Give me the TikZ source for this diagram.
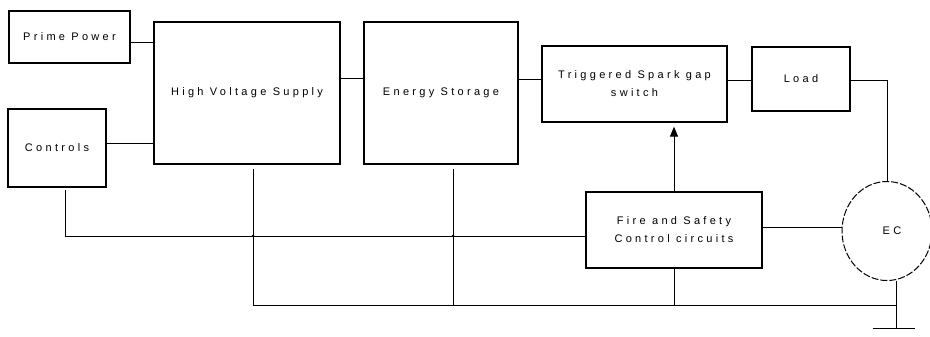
\documentclass[tikz,border=0pt]{standalone}
\usepackage{fontspec}
\setmainfont{Liberation Sans}[LetterSpace=30]
\usetikzlibrary{arrows.meta,shapes.geometric}
\begin{document}
\begin{tikzpicture}[x=1pt,y=-1pt,
  blk/.style={draw,line width=1.3pt,rectangle,inner sep=0pt,align=center,font=\fontsize{11}{18}\selectfont},
  wire/.style={line width=1pt},
  jdot/.style={circle,fill,inner sep=0pt,minimum size=3pt}]
\useasboundingbox (0,0) rectangle (930,337);
\node[blk,minimum width=121pt,minimum height=52pt] (pp) at (69.5,37) {Prime Power};
\node[blk,minimum width=98pt,minimum height=78pt] (ctrl) at (57,148) {Controls};
\node[blk,minimum width=186pt,minimum height=142pt] (hv) at (247,93) {High Voltage Supply};
\node[blk,minimum width=154pt,minimum height=142pt] (es) at (441,93) {Energy Storage};
\node[blk,minimum width=185pt,minimum height=76pt] (sw) at (634.5,84) {Triggered Spark gap\\switch};
\node[blk,minimum width=98pt,minimum height=64pt] (load) at (801,79) {Load};
\node[blk,minimum width=176pt,minimum height=76pt] (fire) at (674,230) {Fire and Safety\\Control circuits};
\node[draw,ellipse,line width=1pt,dash pattern=on 7pt off 2pt,minimum width=90pt,minimum height=99pt,inner sep=0pt,font=\fontsize{11}{12}\selectfont] (ec) at (887,231) {\hspace*{10pt}EC};
\coordinate (cdown) at (65,190);
\coordinate (hvj) at (253,236);
\coordinate (esj) at (453,236);
\coordinate (hvb) at (253,305);
\coordinate (esb) at (453,305);
\coordinate (gnd) at (896,328);
\coordinate (gl) at (873,328);
\coordinate (gr) at (915,328);
\draw[wire] (pp.east |- 0,43) -- (hv.west |- 0,43);
\draw[wire] (ctrl.east |- 0,143) -- (hv.west |- 0,143);
\draw[wire] (hv.east |- 0,79) -- (es.west |- 0,79);
\draw[wire] (es.east |- 0,80) -- (sw.west |- 0,80);
\draw[wire] (sw.east |- 0,81) -- (load.west |- 0,81);
\draw[wire] (load.east |- 0,81) -| (ec.north);
\draw[wire] (cdown) |- (fire.west |- 0,236);
\draw[wire] (hvb) -- (hvb |- 0,169);
\draw[wire] (esb) -- (esb |- 0,169);
\node[jdot] at (hvj) {};
\node[jdot] at (esj) {};
\draw[wire] (fire.south) -- (fire.south |- 0,305);
\draw[wire] (hvb) -- (gnd |- 0,305);
\draw[wire] (gnd |- ec.south) -- (gnd);
\draw[wire] (gl) -- (gr);
\draw[wire] (fire.east |- 0,227) -- (ec.west |- 0,227);
\draw[wire,-{Triangle[width=8pt,length=10pt]},shorten >=4pt] (fire.north) -- (fire.north |- sw.south);
\end{tikzpicture}
\end{document}
